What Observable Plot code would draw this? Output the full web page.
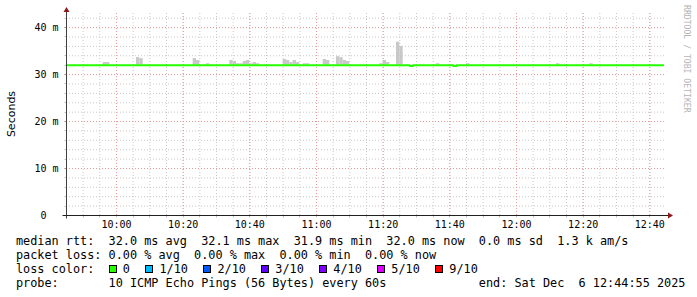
<!DOCTYPE html>
<html>
<head>
<meta charset="utf-8">
<script src="https://cdn.jsdelivr.net/npm/d3@7"></script>
<script src="https://cdn.jsdelivr.net/npm/@observablehq/plot@0.6"></script>
<style>
  body { margin: 0; background: #fff; }
  #chart { position: relative; width: 697px; height: 297px; overflow: hidden; }
  #legend { position: absolute; left: 16px; top: 234px; font: 11.83px/14px "DejaVu Sans Mono", monospace; white-space: pre; color: #000; }
  #legend .row { height: 14px; position: relative; }
  #legend .sw { display: inline-block; width: 1ch; height: 14px; position: relative; vertical-align: top; }
  #legend .sw i { position: absolute; left: 0; top: 3px; width: 8px; height: 8px; border: 1px solid #000; box-sizing: border-box; }
  #legend .lab { margin-right: 1px; }
</style>
</head>
<body>
<div id="chart"></div>
<script>
// Time window of the graph (UTC)
const windowStart = "2025-12-06 09:45";
const windowEnd = "2025-12-06 12:45";

// Median round-trip time, one value per minute from 09:45 (ms)
const medianRtt = [
  32.0, 32.0, 32.0, 32.0, 32.0, 32.0, 32.0, 32.0, 32.0, 32.0, 32.0, 32.0, 32.0, 32.0, 32.0, 32.0, 32.0, 32.0, 32.0, 32.0,
  32.0, 32.0, 32.0, 32.0, 32.0, 32.0, 32.0, 32.0, 32.0, 32.0, 32.0, 32.0, 32.0, 32.0, 32.0, 32.0, 32.0, 32.0, 32.0, 32.0,
  32.0, 32.0, 32.0, 32.0, 32.0, 32.0, 32.0, 32.0, 32.0, 32.0, 32.0, 32.0, 32.0, 32.0, 32.0, 32.0, 32.0, 32.0, 32.0, 32.0,
  32.0, 32.0, 32.0, 32.0, 32.0, 32.0, 32.0, 32.0, 32.0, 32.0, 32.0, 32.0, 32.0, 32.0, 32.0, 32.0, 32.0, 32.0, 32.0, 32.0,
  32.0, 32.0, 32.0, 32.0, 32.0, 32.0, 32.0, 32.0, 32.0, 32.0, 32.0, 32.0, 32.0, 32.0, 32.0, 32.0, 32.0, 32.0, 32.0, 32.0,
  32.0, 32.0, 32.0, 31.8, 32.0, 32.0, 32.0, 32.0, 32.0, 32.0, 32.0, 32.0, 32.0, 32.0, 32.0, 32.0, 31.8, 32.0, 32.0, 32.0,
  32.0, 32.0, 32.0, 32.0, 32.0, 32.0, 32.0, 32.0, 32.0, 32.0, 32.0, 32.0, 32.0, 32.0, 32.0, 32.0, 32.0, 32.0, 32.0, 32.0,
  32.0, 32.0, 32.0, 32.0, 32.0, 32.0, 32.0, 32.0, 32.0, 32.0, 32.0, 32.0, 32.0, 32.0, 32.0, 32.0, 32.0, 32.0, 32.0, 32.0,
  32.0, 32.0, 32.0, 32.0, 32.0, 32.0, 32.0, 32.0, 32.0, 32.0, 32.0, 32.0, 32.0, 32.0, 32.0, 32.0, 32.0, 32.0, 32.0
];

// Minutes (from 09:45) where the ping spread rises above the median, and the top of that spread (ms)
const smokeMinute = [11, 12, 21, 22, 38, 39, 42, 49, 50, 51, 52, 53, 54, 55, 56, 57, 65, 66, 67, 68, 69, 71, 72,
  77, 78, 81, 82, 83, 84, 94, 95, 96, 99, 100, 111, 120, 147, 157];
const smokeTop = [32.55, 32.55, 33.6, 33.4, 33.4, 33.0, 32.3, 33.0, 32.8, 32.3, 32.3, 32.8, 33.0, 32.3, 32.55, 32.3,
  33.2, 33.0, 32.55, 33.0, 32.55, 32.3, 32.3, 33.2, 33.0, 33.8, 33.6, 33.0, 32.8, 32.3, 33.0, 32.55, 36.9, 36.0,
  32.3, 32.3, 32.3, 32.3];

// Axis ticks
const timeTickLabels = ["10:00", "10:20", "10:40", "11:00", "11:20", "11:40", "12:00", "12:20", "12:40"];
const valueTicks = [0, 10, 20, 30, 40];
const valueTickLabels = ["0\u00a0\u00a0", "10 m", "20 m", "30 m", "40 m"];

// Legend text
const statsMedian = ["median rtt:", "32.0 ms avg", "32.1 ms max", "31.9 ms min", "32.0 ms now", "0.0 ms sd", "1.3 k am/s"];
const statsLoss = ["packet loss:", "0.00 % avg", "0.00 % max", "0.00 % min", "0.00 % now"];
const lossLabels = ["0", "1/10", "2/10", "3/10", "4/10", "5/10", "9/10"];
const lossColors = ["#26ff00", "#00b8ff", "#0059ff", "#5e00ff", "#7e00ff", "#dd00ff", "#ff0000"];
const probeText = "10 ICMP Echo Pings (56 Bytes) every 60s";
const endText = "end: Sat Dec  6 12:44:55 2025";

const parseUtc = d3.utcParse("%Y-%m-%d %H:%M");
const t0 = parseUtc(windowStart);
const t1 = parseUtc(windowEnd);
const atMinute = (m) => new Date(+t0 + m * 60000);

// Step points for the median line (each value holds for its minute)
const medianPoints = medianRtt.map((v, i) => ({t: atMinute(i), v}));
medianPoints.push({t: atMinute(medianRtt.length), v: medianRtt[medianRtt.length - 1]});

const smoke = smokeMinute.map((m, i) => ({t1: atMinute(m), t2: atMinute(m + 1), lo: medianRtt[m], hi: smokeTop[i]}));

const timeTicks = timeTickLabels.map((s) => parseUtc("2025-12-06 " + s));
const minorTimes = d3.utcMinutes(t0, t1, 5).filter((d) => +d > +t0);
const majorTimes = timeTicks;
const minorValues = d3.range(2, 43, 2);
const majorValues = valueTicks.filter((v) => v > 0);

const gridMinor = "#c8c8c8";
const gridMajor = "#e49a9a";
const yTop = 43;

// Axis lines, arrow heads and the side texts
function frame(index, {x, y}) {
  const g = d3.create("svg:g");
  const x0 = Math.round(x(t0)) + 0.5, x1 = x(t1);
  const y0 = Math.round(y(0)) + 0.5, yt = y(yTop);
  // small tick marks just outside the value axis
  for (const v of minorValues) {
    const yy = Math.round(y(v)) + 0.5;
    g.append("line").attr("x1", x0 - 2).attr("x2", x0).attr("y1", yy).attr("y2", yy).attr("stroke", "#c0c0c0");
  }
  for (const v of majorValues) {
    const yy = Math.round(y(v)) + 0.5;
    g.append("line").attr("x1", x0 - 2).attr("x2", x0).attr("y1", yy).attr("y2", yy).attr("stroke", "#e08080");
  }
  for (const d of minorTimes) {
    const xx = Math.round(x(d)) + 0.5;
    g.append("line").attr("x1", xx).attr("x2", xx).attr("y1", y0).attr("y2", y0 + 2).attr("stroke", "#c0c0c0");
  }
  g.append("line").attr("x1", x0).attr("x2", x0).attr("y1", y0 + 3).attr("y2", yt - 2).attr("stroke", "#404040");
  g.append("line").attr("x1", x0 - 4).attr("x2", x1 + 3).attr("y1", y0).attr("y2", y0).attr("stroke", "#202020");
  g.append("path").attr("d", `M${x0 - 3},${yt - 1}L${x0 + 3},${yt - 1}L${x0},${yt - 6}Z`).attr("fill", "#8b1a1a");
  g.append("path").attr("d", `M${x1 + 2},${y0 - 3}L${x1 + 2},${y0 + 3}L${x1 + 7},${y0}Z`).attr("fill", "#8b1a1a");
  g.append("text").attr("transform", `translate(11,${(y(0) + yt) / 2}) rotate(-90)`)
    .attr("text-anchor", "middle").attr("dominant-baseline", "central")
    .attr("font-family", "DejaVu Sans").attr("font-size", 11).attr("fill", "#000").text("Seconds");
  g.append("text").attr("transform", `translate(687,5) rotate(90)`)
    .attr("text-anchor", "start").attr("dominant-baseline", "central")
    .attr("font-family", "DejaVu Sans Mono").attr("font-size", 8.15).attr("fill", "#b4b4b4").text("RRDTOOL / TOBI OETIKER");
  return g.node();
}

const chart = Plot.plot({
  width: 697,
  height: 230,
  marginLeft: 66,
  marginRight: 31,
  marginTop: 13,
  marginBottom: 15,
  style: {fontFamily: "DejaVu Sans Mono", fontSize: "10px", background: "#fff", color: "#000"},
  x: {type: "utc", domain: [t0, t1]},
  y: {domain: [0, yTop]},
  marks: [
    Plot.ruleX(minorTimes, {stroke: gridMinor, strokeDasharray: "1,2"}),
    Plot.ruleY(minorValues, {stroke: gridMinor, strokeDasharray: "1,2"}),
    Plot.ruleX(majorTimes, {stroke: gridMajor, strokeDasharray: "1,2"}),
    Plot.ruleY(majorValues, {stroke: gridMajor, strokeDasharray: "1,2"}),
    Plot.rectY(smoke, {x1: "t1", x2: "t2", y1: "lo", y2: "hi", fill: "#c8c8c8"}),
    Plot.line(medianPoints, {x: "t", y: "v", curve: "step-after", stroke: lossColors[0], strokeWidth: 2}),
    Plot.axisX({ticks: timeTicks, tickFormat: (d) => timeTickLabels[timeTicks.findIndex((t) => +t === +d)], tickSize: 0, tickPadding: 5, label: null}),
    Plot.axisY({ticks: valueTicks, tickFormat: (d) => valueTickLabels[valueTicks.indexOf(d)], tickSize: 0, tickPadding: 8, label: null}),
    frame
  ]
});

const root = document.getElementById("chart");
root.appendChild(chart);

// Statistics legend below the graph
const legend = document.createElement("div");
legend.id = "legend";
const pad = (s, n) => s + " ".repeat(Math.max(0, n - s.length));
const row1 = document.createElement("div");
row1.className = "row";
row1.textContent = pad(statsMedian[0], 13) + statsMedian.slice(1, 5).map((s) => pad(s, 13)).join("") + pad(statsMedian[5], 11) + statsMedian[6];
const row2 = document.createElement("div");
row2.className = "row";
row2.textContent = pad(statsLoss[0], 13) + statsLoss.slice(1).map((s) => pad(s, 12)).join("").trimEnd();
const row3 = document.createElement("div");
row3.className = "row";
row3.append(pad("loss color:", 13));
lossLabels.forEach((lab, i) => {
  const sw = document.createElement("span");
  sw.className = "sw";
  const box = document.createElement("i");
  box.style.background = lossColors[i];
  sw.appendChild(box);
  row3.appendChild(sw);
  const t = document.createElement("span");
  t.className = "lab";
  t.textContent = " " + lab + (i < lossLabels.length - 1 ? "  " : "");
  row3.appendChild(t);
});
const row4 = document.createElement("div");
row4.className = "row";
row4.textContent = pad("probe:", 13) + pad(probeText, 52) + endText;
legend.append(row1, row2, row3, row4);
root.appendChild(legend);
</script>
</body>
</html>
